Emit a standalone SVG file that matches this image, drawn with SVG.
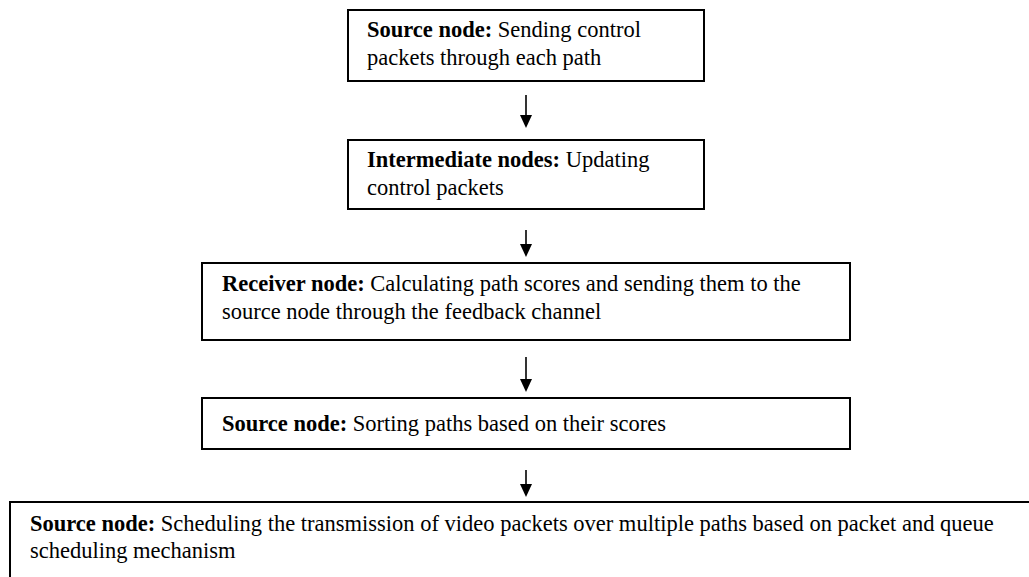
<svg xmlns="http://www.w3.org/2000/svg" width="1029" height="577" viewBox="0 0 1029 577">
<style>
.box{fill:#fff;stroke:#000;stroke-width:2}
.t{font-family:"Liberation Serif","Times New Roman",serif;font-size:22.5px;fill:#000}
.b{font-weight:bold}
.c{stroke:#000;stroke-width:1.6;fill:none}
</style>
<defs>
<marker id="ah" markerWidth="12" markerHeight="14" refX="6" refY="13" orient="auto-start-reverse" markerUnits="userSpaceOnUse" viewBox="0 0 12 14">
<path d="M0,0 L12,0 L6,13 Z" fill="#000" transform="rotate(0)"/>
</marker>
</defs>
<rect width="1029" height="577" fill="#fff"/>
<g id="connectors">
<path class="c" d="M526,95 V115"/><path d="M520,115 L532,115 L526,128 Z"/>
<path class="c" d="M526,230 V244"/><path d="M520,244 L532,244 L526,257 Z"/>
<path class="c" d="M526,357 V379"/><path d="M520,379 L532,379 L526,392 Z"/>
<path class="c" d="M526,470 V484"/><path d="M520,484 L532,484 L526,497 Z"/>
</g>
<g id="node1">
<rect class="box" x="348" y="10" width="356" height="71"/>
<text class="t" x="367" y="37"><tspan class="b">Source node:</tspan> Sending control</text>
<text class="t" x="367" y="65">packets through each path</text>
</g>
<g id="node2">
<rect class="box" x="348" y="140" width="356" height="69"/>
<text class="t" x="367" y="167"><tspan class="b">Intermediate nodes:</tspan> Updating</text>
<text class="t" x="367" y="195">control packets</text>
</g>
<g id="node3">
<rect class="box" x="202" y="263" width="648" height="77"/>
<text class="t" x="222" y="291"><tspan class="b">Receiver node:</tspan> Calculating path scores and sending them to the</text>
<text class="t" x="222" y="319">source node through the feedback channel</text>
</g>
<g id="node4">
<rect class="box" x="202" y="398" width="648" height="51"/>
<text class="t" x="222" y="431"><tspan class="b">Source node:</tspan> Sorting paths based on their scores</text>
</g>
<g id="node5">
<rect class="box" x="10" y="502" width="1040" height="100"/>
<text class="t" x="30" y="531"><tspan class="b">Source node:</tspan> Scheduling the transmission of video packets over multiple paths based on packet and queue</text>
<text class="t" x="30" y="558">scheduling mechanism</text>
</g>
</svg>
